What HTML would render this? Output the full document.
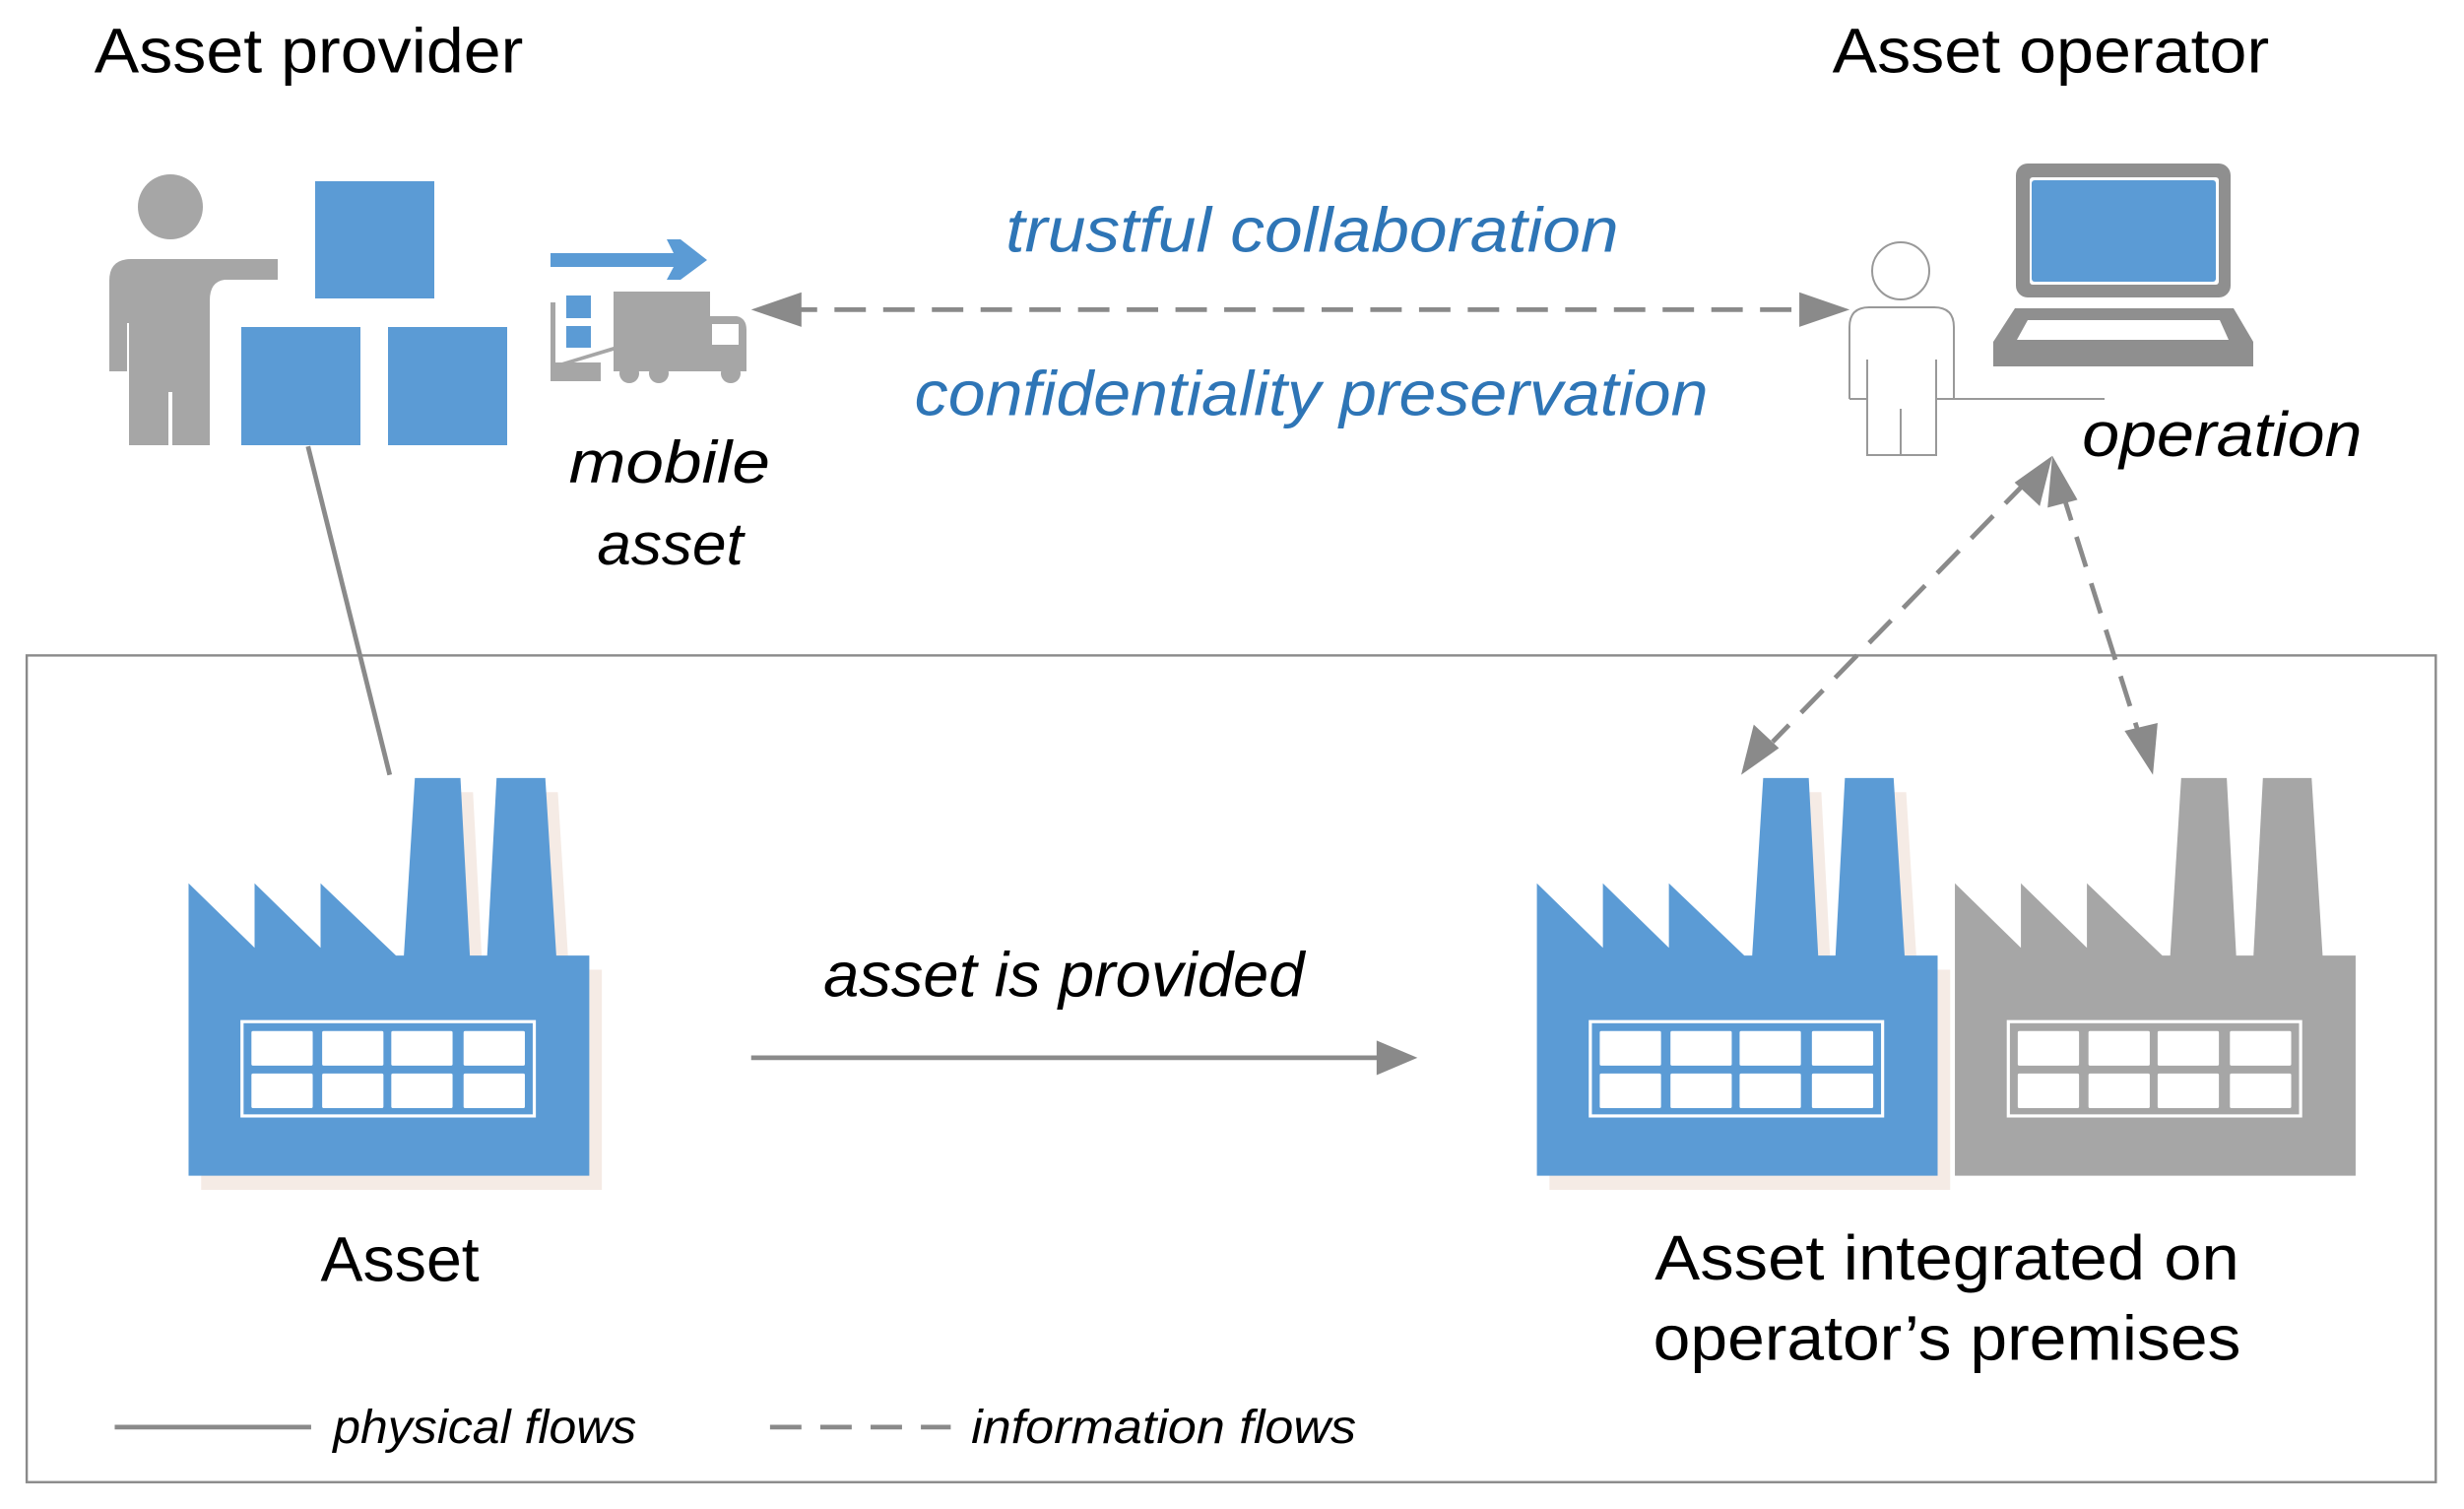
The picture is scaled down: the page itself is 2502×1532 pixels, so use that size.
<!DOCTYPE html>
<html><head><meta charset="utf-8"><style>html,body{margin:0;padding:0;background:#fff}svg{display:block}</style></head>
<body>
<svg width="2502" height="1532" viewBox="0 0 2502 1532" xmlns="http://www.w3.org/2000/svg" font-family="'Liberation Sans', 'DejaVu Sans', sans-serif">
<defs>
<g id="fac">
  <path d="M120,748 L120,562 L162,603 L162,562 L204,603 L204,562 L252,608 L257,608 L264,495 L293,495 L299,608 L310,608 L316,495 L347,495 L354,608 L375,608 L375,748 Z"/>
</g>
<g id="win">
  <rect x="154" y="650" width="186" height="60" fill="none" stroke="#fff" stroke-width="2"/>
  <g fill="#fff">
    <rect x="160" y="656" width="39" height="22" rx="1"/><rect x="205" y="656" width="39" height="22" rx="1"/><rect x="249" y="656" width="39" height="22" rx="1"/><rect x="295" y="656" width="39" height="22" rx="1"/>
    <rect x="160" y="683" width="39" height="22" rx="1"/><rect x="205" y="683" width="39" height="22" rx="1"/><rect x="249" y="683" width="39" height="22" rx="1"/><rect x="295" y="683" width="39" height="22" rx="1"/>
  </g>
</g>
</defs>
<rect width="2502" height="1532" fill="#fff"/>
<g transform="scale(1.5957)">
<rect x="17" y="417" width="1533" height="526" fill="none" stroke="#8a8a8a" stroke-width="1.5"/>
<text x="60" y="46" font-size="40" textLength="273" lengthAdjust="spacingAndGlyphs" fill="#000">Asset provider</text>
<text x="1166" y="46" font-size="40" textLength="278" lengthAdjust="spacingAndGlyphs" fill="#000">Asset operator</text>
<text x="362" y="307" font-size="38" font-style="italic" fill="#000" textLength="128" lengthAdjust="spacingAndGlyphs">mobile</text>
<text x="380" y="359" font-size="38" font-style="italic" fill="#000" textLength="93" lengthAdjust="spacingAndGlyphs">asset</text>
<line x1="500" y1="197" x2="1150" y2="197" stroke="#8a8a8a" stroke-width="3" stroke-dasharray="20,11"/>
<path d="M478,197 L510,186 L510,208 Z" fill="#8a8a8a"/>
<path d="M1177,197 L1145,186 L1145,208 Z" fill="#8a8a8a"/>
<text x="640" y="160" font-size="40" font-style="italic" fill="#2e75b6" textLength="390" lengthAdjust="spacingAndGlyphs">trustful collaboration</text>
<text x="582" y="264" font-size="40" font-style="italic" fill="#2e75b6" textLength="505" lengthAdjust="spacingAndGlyphs">confidentiality preservation</text>
<text x="1325" y="290" font-size="40" font-style="italic" fill="#000" textLength="178" lengthAdjust="spacingAndGlyphs">operation</text>
<line x1="1290" y1="306" x2="1128" y2="472" stroke="#8a8a8a" stroke-width="3" stroke-dasharray="20,11"/>
<path d="M1306,290 L1298,322 L1282,307 Z" fill="#8a8a8a"/>
<path d="M1108,493 L1116,461 L1132,476 Z" fill="#8a8a8a"/>
<line x1="1312" y1="312" x2="1362" y2="470" stroke="#8a8a8a" stroke-width="3" stroke-dasharray="20,11"/>
<path d="M1306,290 L1322,318 L1303,323 Z" fill="#8a8a8a"/>
<path d="M1370,493 L1352,465 L1373,460 Z" fill="#8a8a8a"/>
<line x1="196" y1="284" x2="248" y2="493" stroke="#8a8a8a" stroke-width="3"/>
<g transform="translate(8,9)" fill="#f5ebe5"><use href="#fac"/></g>
<g fill="#5b9bd5"><use href="#fac"/></g>
<use href="#win"/>
<text x="204" y="815" font-size="40" fill="#000" textLength="101" lengthAdjust="spacingAndGlyphs">Asset</text>
<text x="524" y="634" font-size="40" font-style="italic" fill="#000" textLength="306" lengthAdjust="spacingAndGlyphs">asset is provided</text>
<line x1="478" y1="673" x2="880" y2="673" stroke="#8a8a8a" stroke-width="3"/>
<path d="M902,673 L876,662 L876,684 Z" fill="#8a8a8a"/>
<g transform="translate(866,9)" fill="#f5ebe5"><use href="#fac"/></g>
<g transform="translate(1124,0)" fill="#a6a6a6"><use href="#fac"/></g>
<g transform="translate(1124,0)"><use href="#win"/></g>
<g transform="translate(858,0)" fill="#5b9bd5"><use href="#fac"/></g>
<g transform="translate(858,0)"><use href="#win"/></g>
<text x="1053" y="814" font-size="40" fill="#000" textLength="372" lengthAdjust="spacingAndGlyphs">Asset integrated on</text>
<text x="1052" y="865" font-size="40" fill="#000" textLength="374" lengthAdjust="spacingAndGlyphs">operator’s premises</text>
<line x1="73" y1="908" x2="198" y2="908" stroke="#8a8a8a" stroke-width="3"/>
<text x="212" y="918" font-size="30" font-style="italic" fill="#000" textLength="193" lengthAdjust="spacingAndGlyphs">physical flows</text>
<line x1="490" y1="908" x2="605" y2="908" stroke="#8a8a8a" stroke-width="3" stroke-dasharray="20,12"/>
<text x="618" y="918" font-size="30" font-style="italic" fill="#000" textLength="245" lengthAdjust="spacingAndGlyphs">information flows</text>
</g>

<!-- actual-pixel coordinates below -->
<!-- provider person -->
<g fill="#a6a6a6">
  <circle cx="173" cy="210" r="33"/>
  <path d="M111,377 L111,285 Q111,263 133,263 L282,263 L282,284 L228,284 Q213,286 213,305 L213,452 L175,452 L175,398 L171,398 L171,452 L131,452 L131,328 L129,328 L129,377 Z"/>
</g>
<g fill="#5b9bd5">
  <rect x="320" y="184" width="121" height="119"/>
  <rect x="245" y="332" width="121" height="120"/>
  <rect x="394" y="332" width="121" height="120"/>
</g>
<!-- truck -->
<path d="M559,257 L684,257 L677,243 L691,243 L718,264 L691,284 L677,284 L684,271 L559,271 Z" fill="#5b9bd5"/>
<g fill="#a6a6a6">
  <rect x="623" y="296" width="98" height="81"/>
  <path d="M719,321 L748,321 Q758,323 758,335 L758,377 L719,377 Z"/>
  <rect x="559" y="307" width="5" height="80"/>
  <rect x="559" y="368" width="51" height="19"/>
  <path d="M564,370 L623,352 L623,356 L566,373 Z"/>
  <circle cx="639" cy="379" r="10"/><circle cx="669" cy="379" r="10"/><circle cx="742" cy="379" r="10"/>
</g>
<rect x="723" y="329" width="27" height="21" fill="#fff"/>
<rect x="575" y="300" width="25" height="23" fill="#5b9bd5"/>
<rect x="575" y="331" width="25" height="22" fill="#5b9bd5"/>

<!-- operator person -->
<g fill="none" stroke="#999" stroke-width="2">
  <circle cx="1930" cy="275" r="29"/>
  <path d="M1878,405 L1878,332 Q1878,312 1898,312 L1964,312 Q1984,312 1984,332 L1984,405"/>
  <path d="M1896,365 L1896,462 L1966,462 L1966,365 M1930,462 L1930,415"/>
  <line x1="1878" y1="405" x2="1896" y2="405"/><line x1="1966" y1="405" x2="2137" y2="405"/>
</g>
<!-- laptop -->
<rect x="2047" y="166" width="218" height="136" rx="12" fill="#8f8f8f"/>
<rect x="2061" y="180" width="192" height="109" rx="3" fill="#fff"/>
<rect x="2063" y="183" width="187" height="103" rx="3" fill="#5b9bd5"/>
<path d="M2046,313 L2268,313 L2288,347 L2288,372 L2024,372 L2024,347 Z" fill="#8f8f8f"/>
<path d="M2059,325 L2254,325 L2263,345 L2048,345 Z" fill="#fff"/>
</svg>
</body></html>
